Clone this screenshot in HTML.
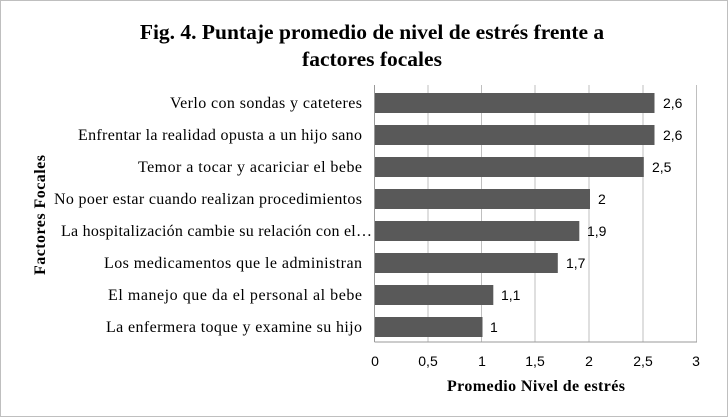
<!DOCTYPE html>
<html><head><meta charset="utf-8"><style>
body{margin:0;background:#fff;}
svg{display:block}
</style></head><body>
<svg width="728" height="417" xmlns="http://www.w3.org/2000/svg">
<rect x="0.5" y="0.5" width="727" height="416" fill="#fff" stroke="#bfbfbf"/>
<g font-family="Liberation Serif, serif" font-weight="bold" font-size="21.5" text-anchor="middle" fill="#000">
<text x="372" y="39">Fig. 4. Puntaje promedio de nivel de estrés frente a</text>
<text x="372" y="66">factores focales</text>
</g>
<g stroke="#bfbfbf" stroke-width="1">
<line x1="481.5" y1="85" x2="481.5" y2="342"/>
<line x1="589" y1="85" x2="589" y2="342"/>
<line x1="696.5" y1="85" x2="696.5" y2="342"/>
<line x1="428" y1="85" x2="428" y2="342"/>
<line x1="535" y1="85" x2="535" y2="342"/>
<line x1="643" y1="85" x2="643" y2="342"/>
<line x1="374.5" y1="85" x2="374.5" y2="342" stroke="#999"/>
<line x1="374.5" y1="342" x2="697" y2="342" stroke="#999"/>
</g>
<g fill="#595959">
<rect x="375" y="93" width="279.5" height="20"/>
<rect x="375" y="125" width="279.5" height="20"/>
<rect x="375" y="157" width="268.8" height="20"/>
<rect x="375" y="189" width="215" height="20"/>
<rect x="375" y="221" width="204.3" height="20"/>
<rect x="375" y="253" width="182.8" height="20"/>
<rect x="375" y="285" width="118.3" height="20"/>
<rect x="375" y="317" width="107.5" height="20"/>
</g>
<g font-family="Liberation Sans, sans-serif" font-size="14" fill="#000">
<text x="663" y="108">2,6</text>
<text x="663" y="140">2,6</text>
<text x="652" y="172">2,5</text>
<text x="598" y="204">2</text>
<text x="587" y="236">1,9</text>
<text x="566" y="268">1,7</text>
<text x="501" y="300">1,1</text>
<text x="490" y="332">1</text>
</g>
<g font-family="Liberation Sans, sans-serif" font-size="14" fill="#000" text-anchor="middle">
<text x="375" y="366">0</text><text x="428" y="366">0,5</text><text x="482" y="366">1</text>
<text x="535" y="366">1,5</text><text x="589" y="366">2</text><text x="643" y="366">2,5</text><text x="696" y="366">3</text>
</g>
<g font-family="Liberation Serif, serif" font-size="16" fill="#000" lengthAdjust="spacingAndGlyphs">
<text x="170" y="108" textLength="192">Verlo con sondas y cateteres</text>
<text x="78" y="140" textLength="284">Enfrentar la realidad opusta a un hijo sano</text>
<text x="138" y="172" textLength="224">Temor a tocar y acariciar el bebe</text>
<text x="54" y="204" textLength="308">No poer estar cuando realizan procedimientos</text>
<text x="61" y="236" textLength="311">La hospitalización cambie su relación con el…</text>
<text x="104" y="268" textLength="258">Los medicamentos que le administran</text>
<text x="108" y="300" textLength="254">El manejo que da el personal al bebe</text>
<text x="106" y="332" textLength="256">La enfermera toque y examine su hijo</text>
</g>
<text x="447" y="391" textLength="178" font-family="Liberation Serif, serif" font-weight="bold" font-size="16">Promedio  Nivel de estrés</text>
<text transform="translate(45,275) rotate(-90)" textLength="120" font-family="Liberation Serif, serif" font-weight="bold" font-size="16">Factores Focales</text>
</svg>
</body></html>
